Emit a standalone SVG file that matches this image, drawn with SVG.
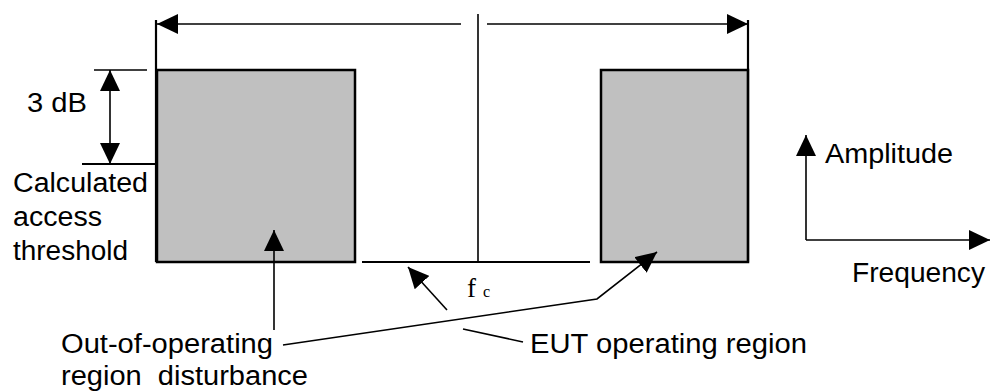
<svg xmlns="http://www.w3.org/2000/svg" width="990" height="392" viewBox="0 0 990 392">
<style>
.t{font-family:"Liberation Sans",Arial,sans-serif;font-size:27px;fill:#000}
.s{font-family:"Liberation Serif","Times New Roman",serif;fill:#000}
.box{fill:#c0c0c0;stroke:#000;stroke-width:2.5}
.ln{fill:none;stroke:#000;stroke-width:1.6}
.th{fill:none;stroke:#000;stroke-width:2.2}
.ar{fill:none;stroke:#000;stroke-width:1.6;marker-end:url(#ah)}
</style>
<defs>
<marker id="ah" markerUnits="userSpaceOnUse" markerWidth="22" markerHeight="20" refX="21" refY="10" orient="auto-start-reverse" viewBox="0 0 22 20">
<path d="M0,0 L21,10 L0,20 z" fill="#000"/>
</marker>
</defs>
<rect width="990" height="392" fill="#fff"/>
<g id="left-band">
<rect class="box" x="157" y="70" width="198" height="192"/>
</g>
<g id="right-band">
<rect class="box" x="601" y="70" width="147" height="192"/>
</g>
<g id="connectors">
<line class="th" x1="156" y1="20" x2="156" y2="262"/>
<line class="th" x1="748" y1="20" x2="748" y2="262"/>
<line class="ln" x1="478" y1="14" x2="478" y2="262"/>
<line class="ar" x1="461" y1="24" x2="157" y2="24"/>
<line class="ar" x1="487" y1="24" x2="748" y2="24"/>
<line class="th" x1="362" y1="262" x2="590" y2="262"/>
<line class="ln" x1="94" y1="70" x2="147" y2="70"/>
<line class="th" x1="82" y1="164" x2="156" y2="164"/>
<line class="ar" x1="110" y1="70" x2="110" y2="164" style="marker-start:url(#ah)"/>
<line class="ar" x1="274" y1="330" x2="274" y2="230"/>
<line class="ar" x1="447" y1="310" x2="408" y2="267"/>
<polyline class="ar" points="283,345 597,299 657,252"/>
<line class="ln" x1="463" y1="329" x2="523" y2="342"/>
<line class="ar" x1="806" y1="240" x2="806" y2="135"/>
<line class="ar" x1="806" y1="240" x2="990" y2="240"/>
</g>
<g id="labels">
<text class="t" x="27" y="112" textLength="60" lengthAdjust="spacingAndGlyphs">3 dB</text>
<text class="t" x="13" y="192" textLength="135" lengthAdjust="spacingAndGlyphs">Calculated</text>
<text class="t" x="13" y="226" textLength="89" lengthAdjust="spacingAndGlyphs">access</text>
<text class="t" x="13" y="260" textLength="115" lengthAdjust="spacingAndGlyphs">threshold</text>
<text class="t" x="61" y="353" textLength="212" lengthAdjust="spacingAndGlyphs">Out-of-operating</text>
<text class="t" x="61" y="385" xml:space="preserve" textLength="247" lengthAdjust="spacingAndGlyphs">region  disturbance</text>
<text class="t" x="530" y="353" textLength="277" lengthAdjust="spacingAndGlyphs">EUT operating region</text>
<text class="t" x="825" y="163" textLength="128" lengthAdjust="spacingAndGlyphs">Amplitude</text>
<text class="t" x="852" y="282" textLength="133" lengthAdjust="spacingAndGlyphs">Frequency</text>
<text class="s" x="467" y="297" font-size="27">f</text>
<text class="s" x="483" y="297" font-size="16">c</text>
</g>
</svg>
